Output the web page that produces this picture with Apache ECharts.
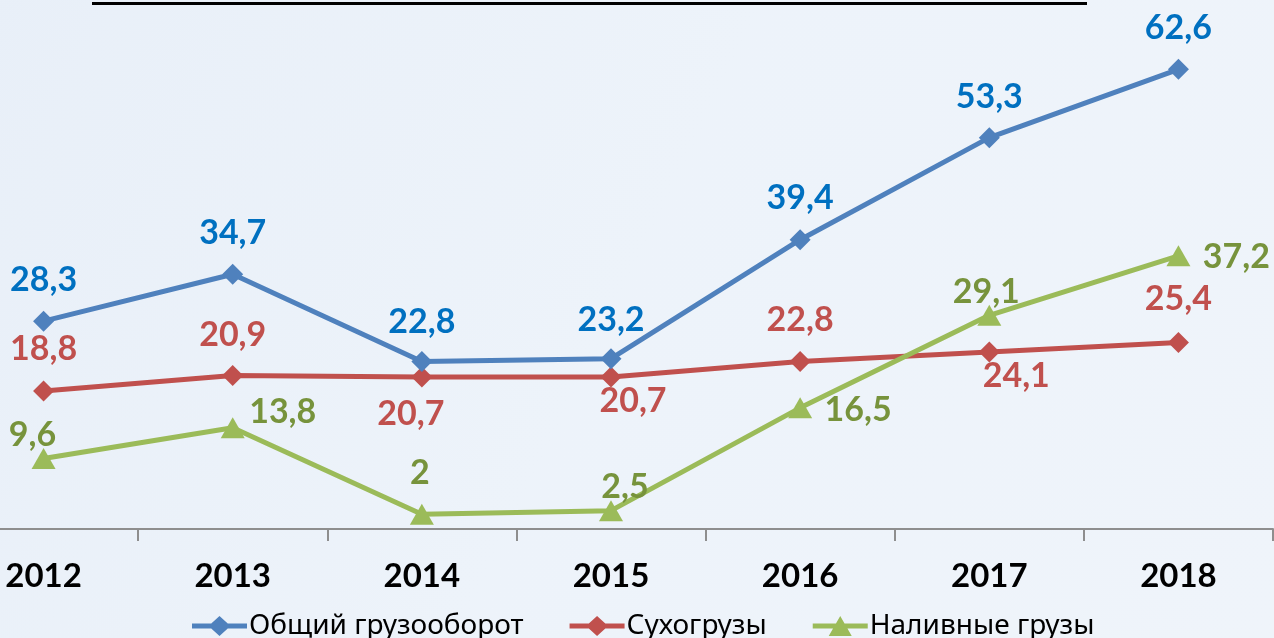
<!DOCTYPE html>
<html>
<head>
<meta charset="utf-8">
<script src="https://cdn.jsdelivr.net/npm/echarts@6/dist/echarts.min.js"></script>
<style>
html,body{margin:0;padding:0;width:1274px;height:638px;overflow:hidden;position:relative;}
#c{position:absolute;left:-51px;top:0;width:1325px;height:638px;}
</style>
</head>
<body>
<div id="c"></div>
<script>
// ---- data ----
const categories = ['2012', '2013', '2014', '2015', '2016', '2017', '2018'];
const totalTurnover = [28.3, 34.7, 22.8, 23.2, 39.4, 53.3, 62.6];
const dryCargo = [18.8, 20.9, 20.7, 20.7, 22.8, 24.1, 25.4];
const liquidCargo = [9.6, 13.8, 2, 2.5, 16.5, 29.1, 37.2];
const seriesNames = ['Общий грузооборот', 'Сухогрузы', 'Наливные грузы'];

// ---- label placement (style only) ----
const totalLabelOffsets = [[0,-41],[0,-41],[0,-40],[0,-39],[0,-42],[0,-41],[0,-41]];
const dryLabelOffsets = [[0,-42],[0,-41],[-11,37],[22,24],[0,-42],[27,24],[0,-43]];
const liquidLabelOffsets = [[-11,-23],[50,-16],[-2,-41],[14,-24],[58,2],[-3,-23],[58,1]];

// legend icons: thick line with marker
const diamondIcon = 'path://M0,7.5H19.25L27.5,0L35.75,7.5H55V12.5H35.75L27.5,20L19.25,12.5H0Z';
const triangleIcon = 'path://M0,7.5H23.2L27.5,0L31.8,7.5H55V12.5H34.7L39,20H16L20.3,12.5H0Z';

const SHIFT = 51; // chart canvas is shifted left so first band is partly cut off

function build(values, offsets) {
  return values.map((v, i) => ({ value: v, label: { offset: offsets[i] } }));
}
const fmt = p => String(p.value).replace('.', ',');

const chart = echarts.init(document.getElementById('c'), null, { renderer: 'canvas' });

const labelBase = {
  show: true, position: 'inside', formatter: fmt,
  fontFamily: 'Lato', fontWeight: 'bold', fontSize: 34
};

const option = {
  animation: false,
  backgroundColor: {
    type: 'linear', x: 0, y: 0, x2: 1, y2: 1,
    colorStops: [
      { offset: 0, color: '#e8eff8' },
      { offset: 0.5, color: '#edf3fa' },
      { offset: 1, color: '#eff4fa' }
    ]
  },
  graphic: [
    { type: 'rect', shape: { x: 92 + SHIFT, y: 2, width: 995, height: 3 }, style: { fill: '#000' } }
  ],
  grid: { left: 0, right: 1, top: 15, bottom: 109, containLabel: false },
  legend: {
    data: [
      { name: seriesNames[0], icon: diamondIcon },
      { name: seriesNames[1], icon: diamondIcon },
      { name: seriesNames[2], icon: triangleIcon }
    ],
    left: 192 + SHIFT, top: 612,
    itemWidth: 55, itemHeight: 20, itemGap: 46, padding: 0,
    textStyle: { fontFamily: 'Noto Sans', fontSize: 28, color: '#000', padding: [0, 0, 0, -3] }
  },
  xAxis: {
    type: 'category', data: categories, boundaryGap: true,
    axisLine: { lineStyle: { color: '#8e8e8e', width: 2 } },
    axisTick: { show: true, length: 12, lineStyle: { color: '#8e8e8e', width: 2 } },
    axisLabel: { color: '#000', fontFamily: 'Lato', fontWeight: 'bold', fontSize: 33, margin: 31 },
    splitLine: { show: false }
  },
  yAxis: { type: 'value', min: 0, max: 70, show: false, splitLine: { show: false } },
  series: [
    {
      name: seriesNames[0], type: 'line', data: build(totalTurnover, totalLabelOffsets),
      symbol: 'diamond', symbolSize: 21, z: 3,
      itemStyle: { color: '#4f81bd' }, lineStyle: { color: '#4f81bd', width: 5 },
      label: Object.assign({}, labelBase, { color: '#0070c0' })
    },
    {
      name: seriesNames[1], type: 'line', data: build(dryCargo, dryLabelOffsets),
      symbol: 'diamond', symbolSize: 21, z: 2,
      itemStyle: { color: '#c0504d' }, lineStyle: { color: '#c0504d', width: 5 },
      label: Object.assign({}, labelBase, { color: '#c0504d' })
    },
    {
      name: seriesNames[2], type: 'line', data: build(liquidCargo, liquidLabelOffsets),
      symbol: 'triangle', symbolSize: [24, 21], z: 4,
      itemStyle: { color: '#9bbb59' }, lineStyle: { color: '#9bbb59', width: 5 },
      label: Object.assign({}, labelBase, { color: '#77933c' })
    }
  ]
};
chart.setOption(option);
</script>
</body>
</html>
